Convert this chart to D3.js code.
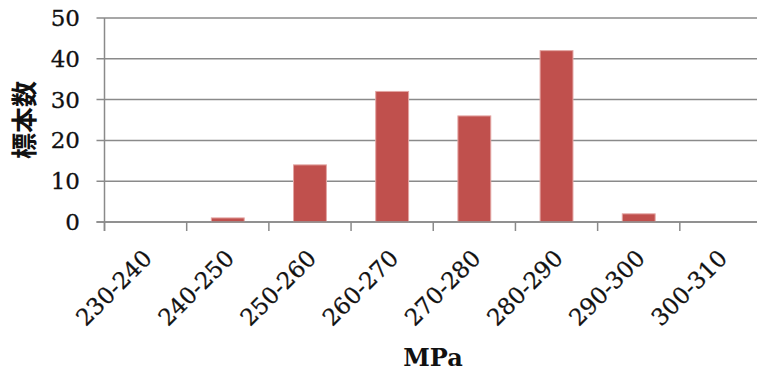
<!DOCTYPE html>
<html>
<head>
<meta charset="utf-8">
<script src="https://cdn.jsdelivr.net/npm/d3@7"></script>
<style>
  body { margin: 0; background: #fff; }
  svg { display: block; }
</style>
</head>
<body>
<script>
const categories = ["230-240", "240-250", "250-260", "260-270", "270-280", "280-290", "290-300", "300-310"];
const counts = [0, 1, 14, 32, 26, 42, 2, 0];
const yTicks = [0, 10, 20, 30, 40, 50];

const width = 757, height = 376;
const plotLeft = 104.5, plotRight = 762, plotTop = 18, plotBottom = 222;

const svg = d3.select("body").append("svg")
  .attr("width", width)
  .attr("height", height);

const x = d3.scaleBand().domain(categories).range([plotLeft, plotRight]).padding(0);
const y = d3.scaleLinear().domain([0, 50]).range([plotBottom, plotTop]);

const gridColor = "#8a8a8a";
const serif = "'DejaVu Serif', serif";

// gridlines + y labels
svg.append("g")
  .selectAll("line")
  .data(yTicks)
  .join("line")
  .attr("x1", plotLeft - 8)
  .attr("x2", width)
  .attr("y1", d => y(d))
  .attr("y2", d => y(d))
  .attr("stroke", gridColor)
  .attr("stroke-width", 1.5);

svg.append("g")
  .selectAll("text")
  .data(yTicks)
  .join("text")
  .attr("x", 80)
  .attr("y", d => y(d))
  .attr("dy", "0.35em")
  .attr("text-anchor", "end")
  .style("font-family", serif)
  .style("font-size", "23px")
  .attr("fill", "#111")
  .attr("stroke", "#111")
  .attr("stroke-width", 0.3)
  .text(d => d);

// y axis line
svg.append("line")
  .attr("x1", plotLeft).attr("x2", plotLeft)
  .attr("y1", plotTop).attr("y2", plotBottom + 9)
  .attr("stroke", gridColor)
  .attr("stroke-width", 1.5);

// x ticks at band boundaries
const xBounds = categories.map(c => x(c)).concat([x.range()[1]]);
svg.append("g")
  .selectAll("line")
  .data(xBounds)
  .join("line")
  .attr("x1", d => d).attr("x2", d => d)
  .attr("y1", plotBottom).attr("y2", plotBottom + 9)
  .attr("stroke", gridColor)
  .attr("stroke-width", 1.5);

// bars
const barW = x.bandwidth() * 0.4;
svg.append("g")
  .selectAll("rect")
  .data(categories.map((c, i) => ({ c, v: counts[i] })).filter(d => d.v > 0))
  .join("rect")
  .attr("x", d => x(d.c) + x.bandwidth() / 2 - barW / 2)
  .attr("y", d => y(d.v))
  .attr("width", barW)
  .attr("height", d => y(0) - y(d.v))
  .attr("fill", "#C0504D")
  .attr("stroke", "#e3a5a3")
  .attr("stroke-width", 1);

// redraw base line on top
svg.append("line")
  .attr("x1", plotLeft - 8).attr("x2", width)
  .attr("y1", plotBottom).attr("y2", plotBottom)
  .attr("stroke", gridColor)
  .attr("stroke-width", 1.5);

// x labels
svg.append("g")
  .selectAll("text")
  .data(categories)
  .join("text")
  .attr("transform", d => `translate(${x(d) + x.bandwidth() / 2 + 2},${plotBottom + 32}) rotate(-45)`)
  .attr("dy", "0.35em")
  .attr("text-anchor", "end")
  .style("font-family", serif)
  .style("font-size", "23px")
  .attr("fill", "#111")
  .attr("stroke", "#111")
  .attr("stroke-width", 0.3)
  .text(d => d);

// axis titles
svg.append("text")
  .attr("transform", "translate(25,120) rotate(-90)")
  .attr("text-anchor", "middle")
  .attr("dy", "0.35em")
  .style("font-family", "'Noto Sans CJK JP', sans-serif")
  .style("font-weight", "bold")
  .style("font-size", "26px")
  .attr("fill", "#111")
  .text("標本数");

svg.append("text")
  .attr("x", 433)
  .attr("y", 366)
  .attr("text-anchor", "middle")
  .style("font-family", serif)
  .style("font-weight", "bold")
  .style("font-size", "24px")
  .attr("fill", "#111")
  .text("MPa");
</script>
</body>
</html>
